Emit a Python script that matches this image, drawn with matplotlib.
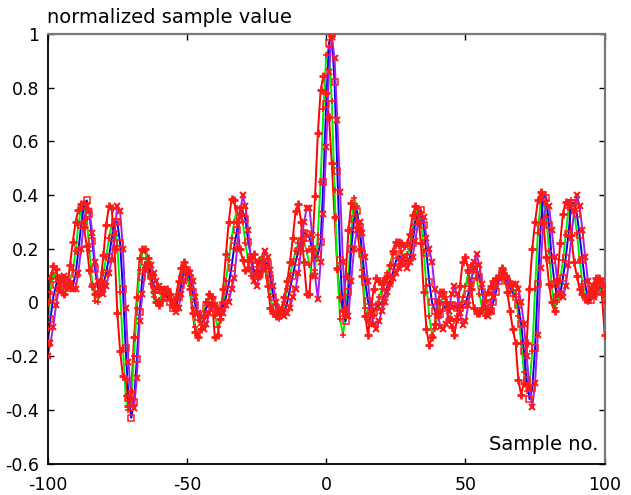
import numpy as np
import matplotlib
matplotlib.use("Agg")
import matplotlib.pyplot as plt

plt.rcParams["axes.unicode_minus"] = False

x = list(range(-100, 101))

blue = [
    -0.15, -0.06, 0.02, 0.065, 0.09, 0.08, 0.07, 0.06, 0.055, 0.06,
    0.105, 0.19, 0.29, 0.36, 0.38, 0.33, 0.23, 0.125, 0.055, 0.04,
    0.07, 0.11, 0.17, 0.24, 0.30, 0.30, 0.22, 0.05, -0.17, -0.355,
    -0.43, -0.37, -0.21, -0.035, 0.095, 0.15, 0.14, 0.10, 0.066, 0.05,
    0.047, 0.045, 0.04, 0.02, 0.0, -0.02, -0.02, 0.02, 0.066, 0.12,
    0.12, 0.09, 0.04, -0.01, -0.055, -0.06, -0.045, -0.02, 0.0, 0.0,
    -0.02, -0.03, -0.036, -0.01, 0.02, 0.07, 0.13, 0.21, 0.27, 0.345,
    0.34, 0.31, 0.227, 0.17, 0.12, 0.098, 0.11, 0.144, 0.15, 0.144,
    0.09, 0.02, -0.02, -0.027, -0.042, -0.035, 0.0, 0.05, 0.10, 0.15,
    0.19, 0.225, 0.26, 0.255, 0.24, 0.20, 0.165, 0.18, 0.225, 0.45,
    0.74, 0.965, 1.0, 0.82, 0.49, 0.16, -0.04, -0.07, 0.04, 0.20,
    0.31, 0.34, 0.28, 0.18, 0.078, 0.004, -0.033, -0.036, -0.017, -0.01,
    0.0, 0.03, 0.06, 0.08, 0.113, 0.153, 0.173, 0.165, 0.155, 0.155,
    0.165, 0.22, 0.30, 0.336, 0.343, 0.287, 0.185, 0.078, 0.0, -0.03,
    -0.048, -0.042, -0.02, -0.015, -0.01, -0.01, -0.015, -0.02, -0.02, -0.01,
    -0.005, 0.03, 0.08, 0.125, 0.125, 0.095, 0.04, -0.01, -0.035, -0.03,
    0.0, 0.04, 0.08, 0.105, 0.10, 0.08, 0.055, 0.035, 0.02, -0.01,
    -0.08, -0.18, -0.29, -0.36, -0.32, -0.17, 0.07, 0.28, 0.40, 0.39,
    0.29, 0.16, 0.07, 0.02, 0.03, 0.09, 0.165, 0.256, 0.37, 0.37,
    0.33, 0.25, 0.16, 0.07, 0.01, 0.01, 0.03, 0.06, 0.07, 0.05,
    0.03,
]

green = [
    -0.10, 0.04, 0.11, 0.09, 0.05, 0.04, 0.06, 0.07, 0.08, 0.12,
    0.19, 0.29, 0.35, 0.37, 0.31, 0.19, 0.07, 0.005, 0.0, 0.06,
    0.11, 0.17, 0.24, 0.29, 0.29, 0.21, 0.04, -0.17, -0.35, -0.40,
    -0.36, -0.20, -0.02, 0.12, 0.19, 0.19, 0.13, 0.07, 0.02, 0.0,
    0.01, 0.03, 0.05, 0.04, 0.01, -0.02, -0.01, 0.04, 0.10, 0.14,
    0.12, 0.06, -0.02, -0.09, -0.12, -0.10, -0.05, 0.0, 0.03, 0.02,
    -0.05, -0.09, -0.06, 0.0, 0.08, 0.16, 0.24, 0.30, 0.35, 0.35,
    0.30, 0.22, 0.15, 0.10, 0.09, 0.12, 0.16, 0.17, 0.14, 0.09,
    0.02, -0.03, -0.05, -0.06, -0.04, 0.0, 0.05, 0.10, 0.15, 0.19,
    0.22, 0.24, 0.23, 0.19, 0.14, 0.10, 0.12, 0.25, 0.45, 0.72,
    0.92, 0.95, 0.75, 0.42, 0.12, -0.06, -0.12, -0.05, 0.10, 0.27,
    0.39, 0.36, 0.25, 0.12, -0.02, -0.07, -0.08, -0.05, -0.01, 0.02,
    0.05, 0.08, 0.11, 0.14, 0.18, 0.21, 0.21, 0.19, 0.17, 0.18,
    0.20, 0.27, 0.33, 0.35, 0.30, 0.19, 0.06, -0.05, -0.12, -0.10,
    -0.05, 0.0, 0.02, 0.02, -0.02, -0.06, -0.07, -0.05, -0.02, 0.02,
    0.06, 0.11, 0.14, 0.13, 0.09, 0.03, -0.02, -0.05, -0.04, -0.01,
    0.03, 0.07, 0.10, 0.12, 0.12, 0.10, 0.08, 0.06, 0.02, -0.05,
    -0.15, -0.26, -0.33, -0.31, -0.18, 0.05, 0.26, 0.38, 0.40, 0.32,
    0.19, 0.06, -0.02, 0.0, 0.08, 0.16, 0.25, 0.35, 0.38, 0.34,
    0.26, 0.16, 0.07, 0.01, 0.0, 0.02, 0.05, 0.07, 0.06, 0.04,
    0.0,
]

red = [
    0.0, 0.09, 0.135, 0.125, 0.08, 0.04, 0.03, 0.06, 0.14, 0.225,
    0.30, 0.345, 0.365, 0.28, 0.21, 0.12, 0.06, 0.03, 0.03, 0.08,
    0.175, 0.29, 0.36, 0.35, 0.20, -0.04, -0.18, -0.275, -0.285, -0.385,
    -0.33, -0.13, 0.02, 0.165, 0.20, 0.20, 0.165, 0.10, 0.04, 0.0,
    -0.01, 0.01, 0.03, 0.05, 0.03, -0.01, 0.02, 0.08, 0.13, 0.15,
    0.12, 0.05, -0.04, -0.11, -0.128, -0.10, -0.05, 0.0, 0.03, 0.02,
    -0.13, -0.12, -0.06, 0.05, 0.18, 0.30, 0.385, 0.38, 0.30, 0.20,
    0.16, 0.12, 0.13, 0.17, 0.18, 0.15, 0.10, 0.12, 0.13, 0.06,
    -0.02, -0.04, -0.05, -0.04, -0.02, 0.02, 0.08, 0.15, 0.24, 0.34,
    0.367, 0.30, 0.15, 0.03, 0.03, 0.20, 0.395, 0.63, 0.79, 0.845,
    0.78, 0.69, 0.52, 0.32, 0.13, 0.02, -0.03, 0.10, 0.27, 0.37,
    0.35, 0.28, 0.20, 0.10, -0.05, -0.12, -0.04, 0.05, 0.09, 0.08,
    0.07, 0.09, 0.10, 0.14, 0.19, 0.225, 0.225, 0.22, 0.21, 0.22,
    0.256, 0.324, 0.359, 0.33, 0.22, 0.04, -0.10, -0.16, -0.13, -0.08,
    0.0, 0.04, 0.04, 0.0, -0.06, -0.09, -0.12, -0.06, 0.06, 0.15,
    0.17, 0.12, 0.05, -0.02, -0.04, -0.04, -0.02, 0.01, 0.04, 0.06,
    0.08, 0.09, 0.10, 0.13, 0.10, 0.04, -0.03, -0.10, -0.15, -0.29,
    -0.343, -0.30, -0.15, 0.05, 0.20, 0.30, 0.38, 0.41, 0.30, 0.17,
    0.07, 0.0, -0.03, 0.08, 0.22, 0.33, 0.376, 0.37, 0.25, 0.15,
    0.10, 0.05, 0.03, 0.02, 0.03, 0.05, 0.07, 0.09, 0.09, 0.03,
    -0.123,
]

purple = [
    -0.20, -0.15, -0.09, -0.01, 0.05, 0.09, 0.10, 0.09, 0.07, 0.05,
    0.05, 0.11, 0.20, 0.30, 0.36, 0.34, 0.26, 0.15, 0.08, 0.05,
    0.03, 0.06, 0.11, 0.16, 0.26, 0.36, 0.34, 0.20, -0.02, -0.22,
    -0.36, -0.395, -0.28, -0.07, 0.03, 0.12, 0.145, 0.14, 0.11, 0.08,
    0.06, 0.05, 0.045, 0.04, 0.02, -0.01, -0.036, -0.02, 0.03, 0.08,
    0.11, 0.11, 0.08, 0.02, -0.04, -0.075, -0.10, -0.08, -0.04, -0.01,
    -0.01, -0.03, -0.04, -0.04, -0.01, 0.0, 0.05, 0.09, 0.20, 0.32,
    0.40, 0.36, 0.27, 0.16, 0.08, 0.06, 0.10, 0.15, 0.19, 0.17,
    0.12, 0.06, 0.0, -0.03, -0.04, -0.05, -0.04, -0.02, 0.02, 0.05,
    0.11, 0.20, 0.30, 0.35, 0.35, 0.25, 0.10, 0.014, 0.15, 0.33,
    0.58, 0.86, 0.99, 0.91, 0.68, 0.41, 0.15, -0.02, -0.05, 0.08,
    0.20, 0.27, 0.30, 0.26, 0.17, 0.08, -0.03, -0.08, -0.10, -0.07,
    -0.03, 0.0, 0.04, 0.07, 0.09, 0.11, 0.13, 0.15, 0.14, 0.13,
    0.15, 0.17, 0.23, 0.30, 0.33, 0.32, 0.24, 0.20, 0.15, 0.05,
    -0.04, -0.09, -0.10, -0.08, -0.03, 0.03, 0.06, 0.03, -0.04, -0.085,
    -0.07, -0.01, 0.07, 0.15, 0.18, 0.14, 0.07, -0.02, -0.05, -0.03,
    0.02, 0.06, 0.09, 0.10, 0.10, 0.09, 0.06, 0.07, 0.07, 0.05,
    0.0, -0.08, -0.20, -0.32, -0.39, -0.30, -0.12, 0.13, 0.30, 0.37,
    0.36, 0.27, 0.17, 0.08, 0.03, 0.02, 0.06, 0.14, 0.24, 0.34,
    0.40, 0.36, 0.27, 0.17, 0.08, 0.03, 0.02, 0.04, 0.07, 0.08,
    0.06,
]

xticks = [-100, -50, 0, 50, 100]
yticks = [-0.6, -0.4, -0.2, 0, 0.2, 0.4, 0.6, 0.8, 1]
ytick_labels = ["-0.6", "-0.4", "-0.2", "0", "0.2", "0.4", "0.6", "0.8", "1"]
xtick_labels = ["-100", "-50", "0", "50", "100"]

fig = plt.figure(figsize=(6.31, 4.95), dpi=100)
ax = fig.add_axes([0.0756, 0.0636, 0.8827, 0.8677])

line_kw = dict(lw=1.4, zorder=2)
ax.plot(x, red, color="#ff0000", **line_kw)
ax.plot(x, green, color="#00ee00", **line_kw)
ax.plot(x, blue, color="#0000ff", **line_kw)
ax.plot(x, purple, color="#a020f0", **line_kw)

mk = "#ff1a1a"
ax.plot(x, green, ls="none", marker="+", ms=3.8, mew=1.2, color=mk, zorder=3)
ax.plot(x, blue, ls="none", marker="s", ms=5, mew=1.1, mfc="none", mec=mk, zorder=3)
ax.plot(x, purple, ls="none", marker="x", ms=4.2, mew=1.5, color=mk, zorder=3)
ax.plot(x, red, ls="none", marker="+", ms=5.2, mew=2.0, color=mk, zorder=4)

ax.set_xlim(-100, 100)
ax.set_ylim(-0.6, 1.0)
ax.set_xticks(xticks)
ax.set_xticklabels(xtick_labels)
ax.set_yticks(yticks)
ax.set_yticklabels(ytick_labels)
ax.tick_params(direction="in", length=4, width=1, labelsize=12.5,
               top=True, right=True, pad=6, colors="black")
ax.tick_params(axis="x", pad=9)

for side in ["left", "bottom"]:
    ax.spines[side].set_color("black")
    ax.spines[side].set_linewidth(1.3)
for side in ["top", "right"]:
    ax.spines[side].set_color("#777777")
    ax.spines[side].set_linewidth(1.6)

fig.text(0.075, 0.965, "normalized sample value", fontsize=14, ha="left", va="center")
ax.text(0.988, 0.045, "Sample no.", transform=ax.transAxes, fontsize=14,
        ha="right", va="center")

fig.savefig("out.png", dpi=100)
